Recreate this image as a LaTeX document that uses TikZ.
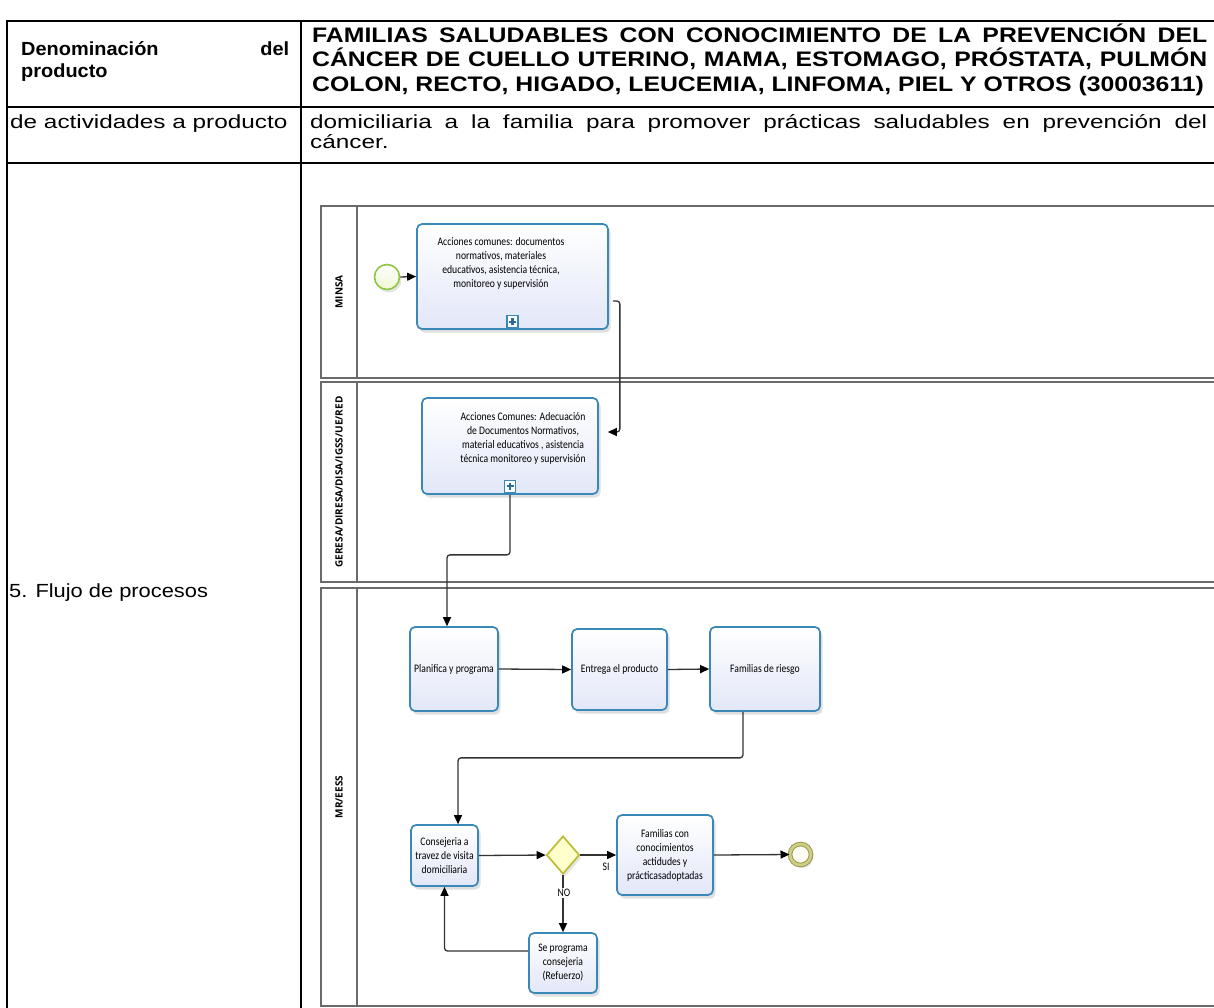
\documentclass[tikz,border=0pt]{standalone}
\usepackage{fontspec}
\setmainfont{Liberation Sans}
\newfontfamily\bodyfont[FakeStretch=1.28]{Liberation Sans}
\newfontfamily\flujofont[FakeStretch=1.15]{Liberation Sans}
\newfontfamily\headfont[FakeStretch=1.18]{Liberation Sans}
\newfontfamily\headleftfont[FakeStretch=1.05]{Liberation Sans}
\newfontfamily\bpmnfont[FakeStretch=0.84]{Carlito}
\newfontfamily\lanefont{Open Sans}
\usetikzlibrary{arrows.meta,shapes.geometric,shadows,calc}
\definecolor{taskborder}{HTML}{3A87BA}
\definecolor{tasklow}{HTML}{E2E7F8}
\definecolor{startborder}{HTML}{8DC63F}
\definecolor{startfill}{HTML}{EEF8D2}
\definecolor{gwborder}{HTML}{BDBD35}
\definecolor{gwfill}{HTML}{FFFFCC}
\definecolor{endborder}{HTML}{9A9A48}
\definecolor{endring}{HTML}{CFCF8A}
\definecolor{flowcol}{HTML}{333333}
\definecolor{poolcol}{HTML}{6A6A6A}
\tikzset{
  tbl/.style={line width=2pt, draw=black},
  pool/.style={draw=poolcol, line width=1.3pt},
  task/.style={draw=taskborder, line width=1.7pt, rounded corners=5pt,
    top color=white, bottom color=tasklow,
    drop shadow={shadow xshift=2.5pt, shadow yshift=-3.5pt, opacity=0.25},
    inner sep=0pt, font=\bpmnfont\fontsize{11.5}{14}\selectfont, align=center},
  ttext/.style={font=\bpmnfont\fontsize{11.5}{14}\selectfont, align=center, inner sep=0pt},
  flow/.style={draw=flowcol, line width=1.3pt, rounded corners=3pt,
    -{Triangle[length=9pt,width=8pt,fill=black,color=black]}},
  lane/.style={font=\lanefont\bfseries\fontsize{10}{12}\selectfont, inner sep=0pt, rotate=90},
  plusbox/.style={draw=taskborder, line width=1.2pt, fill=white, minimum width=11pt,
    minimum height=12pt, inner sep=0pt,
    path picture={\draw[taskborder!80!black, line width=2.2pt]
      ([xshift=-3.5pt]path picture bounding box.center) -- ([xshift=3.5pt]path picture bounding box.center)
      ([yshift=-3.5pt]path picture bounding box.center) -- ([yshift=3.5pt]path picture bounding box.center);}},
  lbl/.style={font=\bpmnfont\fontsize{11.5}{14}\selectfont, inner sep=1pt}
}
\begin{document}
\begin{tikzpicture}[x=1pt,y=-1pt]
\useasboundingbox (0,0) rectangle (1214,1007);
\fill[white] (0,0) rectangle (1214,1007);
\clip (0,0) rectangle (1214,1007);

% ---------- table ----------
\draw[tbl] (6,21) -- (1240,21);
\draw[tbl] (6,107) -- (1240,107);
\draw[tbl] (6,163) -- (1240,163);
\draw[tbl] (7,20) -- (7,1020);
\draw[tbl] (301,20) -- (301,1020);

\node[anchor=base west, inner sep=0pt] (hleft) at (21,55)
  {\parbox[t]{268pt}{\headleftfont\bfseries\fontsize{19}{22}\selectfont Denominación\hfill del\\producto}};
\node[anchor=base west, inner sep=0pt] (hright) at (312,42)
  {\parbox[t]{895pt}{\headfont\bfseries\fontsize{21}{24.5}\selectfont
   \makebox[895pt][s]{FAMILIAS SALUDABLES CON CONOCIMIENTO DE LA PREVENCIÓN DEL}\\
   \makebox[895pt][s]{CÁNCER DE CUELLO UTERINO, MAMA, ESTOMAGO, PRÓSTATA, PULMÓN}\\
   COLON, RECTO, HIGADO, LEUCEMIA, LINFOMA, PIEL Y OTROS (30003611)}};
\node[anchor=base west, inner sep=0pt] (r2l) at (10,128)
  {\bodyfont\fontsize{19}{20}\selectfont de actividades a producto};
\node[anchor=base west, inner sep=0pt] (r2r) at (310,128)
  {\parbox[t]{897pt}{\bodyfont\fontsize{19}{20}\selectfont
   \makebox[897pt][s]{domiciliaria a la familia para promover prácticas saludables en prevención del}\\
   cáncer.}};
\node[anchor=base west, inner sep=0pt] (flujo) at (9,597)
  {\flujofont\fontsize{19}{20}\selectfont 5. Flujo de procesos};

% ---------- pools ----------
\draw[pool] (321,206) rectangle (1240,378);
\draw[pool] (357,206) -- (357,378);
\draw[pool] (321,382) rectangle (1240,582);
\draw[pool] (357,382) -- (357,582);
\draw[pool] (321,588) rectangle (1240,1006);
\draw[pool] (357,588) -- (357,1006);

\node[lane] (lminsa) at (339,292) {MINSA};
\node[lane] (lgeresa) at (339,482) {GERESA/DIRESA/DISA/IGSS/UE/RED};
\node[lane] (lmr) at (339,797) {MR/EESS};

% ---------- MINSA ----------
\node[circle, draw=startborder, line width=1.6pt, top color=white, bottom color=startfill,
  minimum size=25pt, inner sep=0pt,
  drop shadow={shadow xshift=2pt, shadow yshift=-3pt, opacity=0.2}] (start) at (387,277) {};
\node[task, minimum width=191pt, minimum height=105pt] (a1) at (512.5,276.5) {};
\node[ttext] (a1t) at (501,263) {Acciones comunes: documentos\\normativos, materiales\\educativos, asistencia técnica,\\monitoreo y supervisión};
\node[plusbox] (a1p) at ([yshift=8pt]a1.south) {};

% ---------- GERESA ----------
\node[task, minimum width=176pt, minimum height=96pt] (a2) at (510,446) {};
\node[ttext] (a2t) at (523,438) {Acciones Comunes: Adecuación\\de Documentos Normativos,\\material educativos , asistencia\\técnica monitoreo y supervisión};
\node[plusbox] (a2p) at ([yshift=8.5pt]a2.south) {};

% ---------- MR/EESS ----------
\node[task, minimum width=88pt, minimum height=84pt] (plan) at (454,669) {Planifica y programa};
\node[task, minimum width=95pt, minimum height=81pt] (entrega) at (619.5,669.5) {Entrega el producto};
\node[task, minimum width=110pt, minimum height=84pt] (riesgo) at (765,669) {Familias de riesgo};
\node[task, minimum width=67pt, minimum height=61pt] (cons) at (444.5,855.5) {Consejeria a\\travez de visita\\domiciliaria};
\node[diamond, draw=gwborder, line width=1.7pt, fill=gwfill, minimum width=33pt,
  minimum height=38pt, inner sep=0pt,
  drop shadow={shadow xshift=2pt, shadow yshift=-3pt, opacity=0.2}] (gw) at (563,855) {};
\node[task, minimum width=96pt, minimum height=80pt] (famcon) at (665,855) {Familias con\\conocimientos\\actidudes y\\prácticasadoptadas};
\node[task, minimum width=68pt, minimum height=60pt] (sepro) at (563,963) {Se programa\\consejeria\\(Refuerzo)};
\node[circle, draw=endborder, line width=1pt, double=endring, double distance=2.6pt,
  fill=yellow!4, minimum size=21pt, inner sep=0pt,
  drop shadow={shadow xshift=2pt, shadow yshift=-3pt, opacity=0.2}] (endev) at (800.5,854.5) {};

% ---------- flows ----------
\draw[flow] (start.east) -- (a1.west);
\coordinate (c1) at ([xshift=4pt,yshift=-24.5pt]a1.east);
\coordinate (c2) at ([xshift=9pt,yshift=14pt]a2.east);
\draw[flow] (c1) -- ++(7,0) |- (c2);
\draw[flow] (a2.south) -- ++(0,60) -| ([xshift=-7pt]plan.north);
\draw[flow] (plan.east) -- (entrega.west);
\draw[flow] (entrega.east) -- (riesgo.west);
\draw[flow] ([xshift=-22pt]riesgo.south) -- ++(0,46) -| ([xshift=13.5pt]cons.north);
\draw[flow] (cons.east) -- (gw.west);
\draw[flow] (gw.east) -- (famcon.west);
\draw[flow] (gw.south) -- (sepro.north);
\draw[flow] ([yshift=12pt]sepro.west) -| (cons.south);
\draw[flow] (famcon.east) -- (endev.west);

\node[lbl] (si) at (606,867) {SI};
\node[lbl, fill=white] (no) at (564,893) {NO};
\end{tikzpicture}
\end{document}
